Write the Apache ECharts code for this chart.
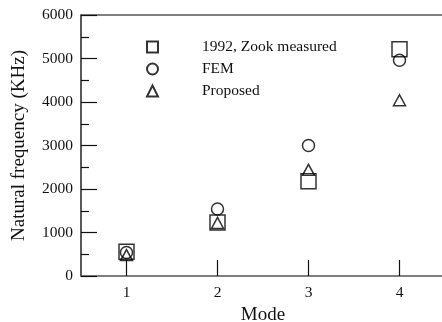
<!DOCTYPE html>
<html>
<head>
<meta charset="utf-8">
<script src="https://cdn.jsdelivr.net/npm/echarts@6/dist/echarts.min.js"></script>
<style>
  html, body { margin: 0; padding: 0; background: #fff; }
  #chart { width: 442px; height: 322px; }
</style>
</head>
<body>
<div id="chart"></div>
<script>
// Natural frequency of the first four modes
const modes = ['1', '2', '3', '4'];
const measured = [560, 1230, 2180, 5210];   // 1992, Zook measured
const fem = [540, 1540, 3000, 4960];        // FEM
const proposed = [480, 1220, 2440, 4040];   // Proposed
const yTicks = [0, 1000, 2000, 3000, 4000, 5000, 6000];

const FONT = '"Liberation Serif", "Times New Roman", serif';
const hollow = {
  color: 'rgba(0,0,0,0)',
  borderColor: '#000',
  borderWidth: 1.5
};

const chart = echarts.init(document.getElementById('chart'), null, { renderer: 'canvas' });

chart.setOption({
  animation: false,
  backgroundColor: '#fff',
  grid: { left: 81, top: 15, right: -3, bottom: 46, containLabel: false, outerBoundsMode: 'none' },
  legend: {
    orient: 'vertical',
    left: 146,
    top: 39,
    padding: 0,
    itemWidth: 11,
    itemHeight: 11,
    itemGap: 6,
    textStyle: { fontFamily: FONT, fontSize: 15.5, color: '#111', padding: [0, 0, 0, 39] },
    data: ['1992, Zook measured', 'FEM', 'Proposed']
  },
  xAxis: [{
    type: 'category',
    data: modes,
    boundaryGap: true,
    name: 'Mode',
    nameLocation: 'middle',
    nameGap: 27,
    nameTextStyle: { fontFamily: FONT, fontSize: 19, color: '#111' },
    axisLine: { show: true, lineStyle: { color: '#555', width: 1.5 } },
    axisTick: { show: true, inside: true, alignWithLabel: true, length: 16, lineStyle: { color: '#111', width: 1.2 } },
    axisLabel: { fontFamily: FONT, fontSize: 15.5, color: '#111', margin: 9 },
    splitLine: { show: false }
  }, {
    type: 'category',
    data: modes,
    position: 'top',
    axisLine: { show: true, lineStyle: { color: '#555', width: 1.5 } },
    axisTick: { show: false },
    axisLabel: { show: false }
  }],
  yAxis: {
    type: 'value',
    min: yTicks[0],
    max: yTicks[yTicks.length - 1],
    interval: 1000,
    name: 'Natural frequency (KHz)',
    nameLocation: 'middle',
    nameGap: 52,
    nameTextStyle: { fontFamily: FONT, fontSize: 19, color: '#111' },
    axisLine: { show: true, lineStyle: { color: '#222', width: 1.5 } },
    axisTick: { show: true, inside: true, length: 16, lineStyle: { color: '#111', width: 1.2 } },
    minorTick: { show: true, splitNumber: 2, length: 8, lineStyle: { color: '#111', width: 1.2 } },
    axisLabel: {
      fontFamily: FONT, fontSize: 15.5, color: '#111', margin: 8,
      formatter: (v) => String(v)
    },
    splitLine: { show: false }
  },
  series: [{
    name: '1992, Zook measured',
    type: 'scatter',
    symbol: 'rect',
    symbolSize: 15,
    itemStyle: hollow,
    data: measured,
    z: 3
  }, {
    name: 'FEM',
    type: 'scatter',
    symbol: 'circle',
    symbolSize: 12,
    itemStyle: hollow,
    data: fem,
    z: 3
  }, {
    name: 'Proposed',
    type: 'scatter',
    symbol: 'triangle',
    symbolSize: [12, 11],
    itemStyle: hollow,
    data: proposed,
    z: 3
  }]
});
</script>
</body>
</html>
